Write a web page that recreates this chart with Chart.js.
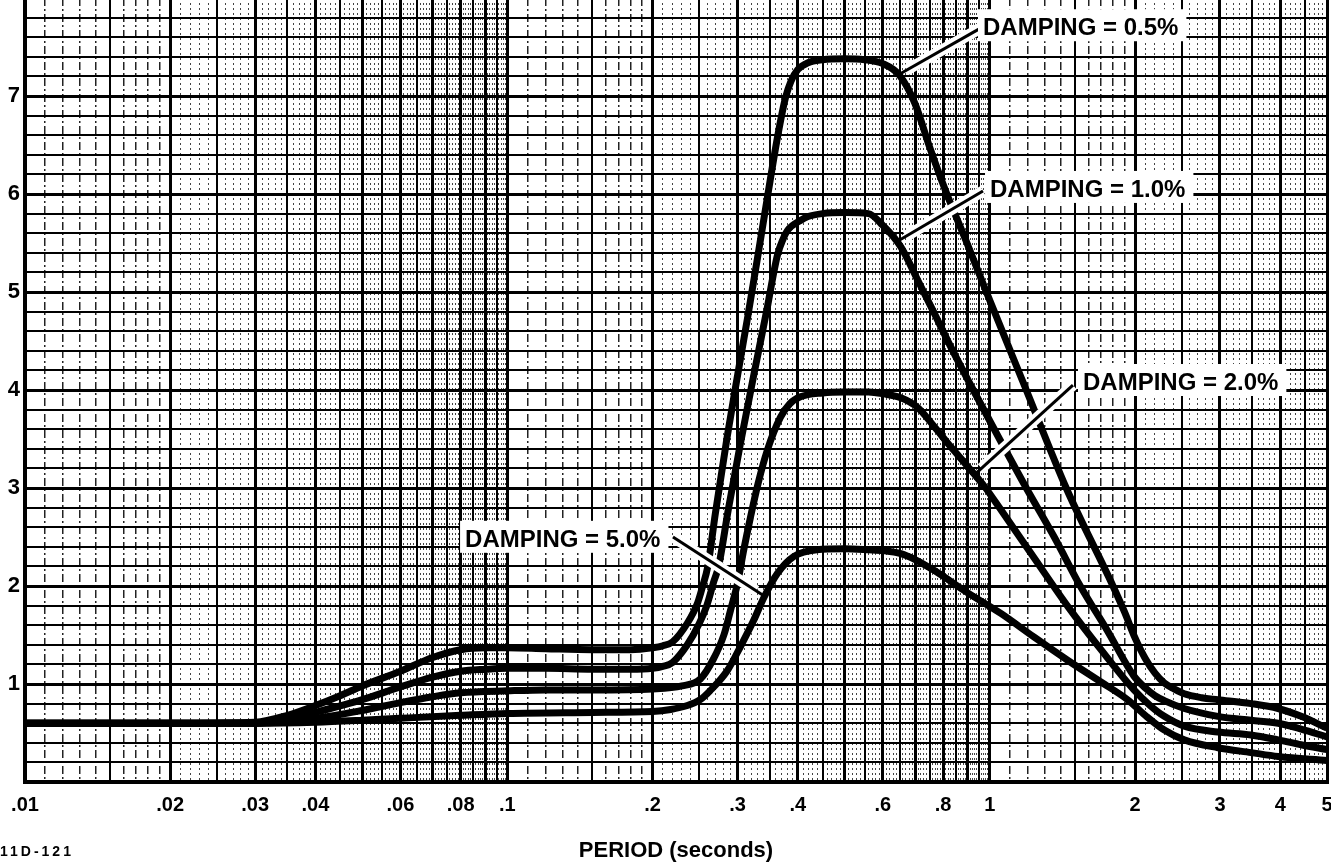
<!DOCTYPE html>
<html>
<head>
<meta charset="utf-8">
<title>Response spectra - PERIOD (seconds)</title>
<script src="https://cdn.jsdelivr.net/npm/chart.js@4.4.0/dist/chart.umd.min.js"></script>
<style>
  html, body { margin: 0; padding: 0; background: #fff; overflow: hidden; }
  #wrap { position: absolute; left: 0; top: -2px; width: 1331px; height: 866px; }
  #figno { position: absolute; left: 0; top: 844px; font: bold 14px "Liberation Sans", Arial, sans-serif; letter-spacing: 3px; line-height: 14px; }
</style>
</head>
<body>
<div id="wrap"><canvas id="spectrum" width="1331" height="866"></canvas></div>
<div id="figno">11D-121</div>
<script>
// spectrum curves, one pair of arrays per damping ratio (period in s)
var period05 = [0.01, 0.02, 0.03, 0.035, 0.04, 0.045, 0.05, 0.06, 0.07, 0.08, 0.09, 0.1, 0.12, 0.15, 0.18, 0.2, 0.21, 0.22, 0.236, 0.248, 0.254, 0.26, 0.27, 0.285, 0.3, 0.315, 0.33, 0.346, 0.363, 0.377, 0.387, 0.4, 0.42, 0.45, 0.5, 0.55, 0.6, 0.65, 0.7, 0.75, 0.81, 0.9, 0.98, 1.19, 1.44, 1.8, 1.9, 2.0, 2.1, 2.2, 2.3, 2.41, 2.53, 2.75, 2.97, 3.48, 3.96, 4.42, 5];
var value05 = [0.6, 0.6, 0.61, 0.68, 0.78, 0.88, 0.98, 1.13, 1.27, 1.35, 1.37, 1.37, 1.36, 1.35, 1.35, 1.37, 1.39, 1.43, 1.62, 1.83, 2.0, 2.19, 2.75, 3.5, 4.15, 4.75, 5.35, 5.97, 6.58, 6.98, 7.15, 7.27, 7.34, 7.37, 7.38, 7.37, 7.33, 7.21, 6.92, 6.48, 6.03, 5.48, 5.02, 4.0, 3.0, 2.0, 1.74, 1.47, 1.26, 1.11, 1.01, 0.95, 0.9, 0.86, 0.84, 0.8, 0.75, 0.67, 0.55];

var period10 = [0.01, 0.02, 0.03, 0.035, 0.04, 0.05, 0.06, 0.07, 0.08, 0.09, 0.1, 0.12, 0.15, 0.18, 0.2, 0.21, 0.22, 0.236, 0.25, 0.259, 0.268, 0.274, 0.287, 0.304, 0.324, 0.346, 0.355, 0.363, 0.372, 0.381, 0.405, 0.42, 0.45, 0.5, 0.56, 0.6, 0.654, 0.709, 0.766, 0.83, 0.924, 1.05, 1.19, 1.36, 1.54, 1.75, 1.99, 2.1, 2.2, 2.3, 2.53, 2.97, 3.48, 3.96, 4.42, 5];
var value10 = [0.6, 0.6, 0.6, 0.64, 0.71, 0.84, 0.97, 1.07, 1.13, 1.15, 1.16, 1.16, 1.15, 1.15, 1.16, 1.18, 1.22, 1.4, 1.62, 1.8, 2.05, 2.2, 2.78, 3.45, 4.15, 4.85, 5.15, 5.38, 5.53, 5.63, 5.73, 5.77, 5.8, 5.81, 5.8, 5.68, 5.46, 5.12, 4.79, 4.44, 4.0, 3.49, 3.0, 2.5, 2.0, 1.55, 1.08, 0.96, 0.88, 0.83, 0.75, 0.67, 0.63, 0.6, 0.54, 0.46];

var period20 = [0.01, 0.02, 0.03, 0.04, 0.05, 0.06, 0.07, 0.08, 0.1, 0.12, 0.15, 0.2, 0.23, 0.251, 0.267, 0.281, 0.29, 0.3, 0.309, 0.319, 0.331, 0.346, 0.368, 0.385, 0.405, 0.45, 0.5, 0.56, 0.603, 0.654, 0.709, 0.766, 0.83, 0.9, 0.98, 1.05, 1.234, 1.452, 1.7, 1.99, 2.15, 2.3, 2.53, 2.97, 3.48, 3.96, 4.42, 5];
var value20 = [0.6, 0.6, 0.6, 0.65, 0.73, 0.81, 0.87, 0.91, 0.93, 0.94, 0.94, 0.95, 0.98, 1.05, 1.25, 1.5, 1.75, 2.03, 2.37, 2.7, 3.05, 3.39, 3.72, 3.86, 3.93, 3.97, 3.98, 3.98, 3.96, 3.92, 3.82, 3.63, 3.42, 3.22, 3.0, 2.79, 2.29, 1.79, 1.35, 0.94, 0.78, 0.67, 0.57, 0.51, 0.48, 0.43, 0.38, 0.33];

var period50 = [0.01, 0.02, 0.03, 0.04, 0.05, 0.06, 0.08, 0.1, 0.15, 0.2, 0.218, 0.236, 0.251, 0.263, 0.286, 0.304, 0.324, 0.34, 0.363, 0.392, 0.438, 0.5, 0.56, 0.603, 0.654, 0.7, 0.766, 0.9, 1.054, 1.234, 1.452, 1.7, 1.93, 2.1, 2.3, 2.53, 2.97, 3.48, 3.96, 5];
var value50 = [0.6, 0.6, 0.6, 0.61, 0.63, 0.65, 0.68, 0.7, 0.71, 0.72, 0.74, 0.78, 0.84, 0.93, 1.14, 1.38, 1.65, 1.88, 2.13, 2.3, 2.37, 2.38, 2.37, 2.36, 2.33, 2.27, 2.16, 1.93, 1.72, 1.48, 1.24, 1.02, 0.84, 0.68, 0.53, 0.43, 0.35, 0.3, 0.26, 0.22];

// axis labels
var periodTicks = [0.01, 0.02, 0.03, 0.04, 0.06, 0.08, 0.1, 0.2, 0.3, 0.4, 0.6, 0.8, 1, 2, 3, 4, 5];
var periodTickText = ['.01', '.02', '.03', '.04', '.06', '.08', '.1', '.2', '.3', '.4', '.6', '.8', '1', '2', '3', '4', '5'];
var valueTicks = [1, 2, 3, 4, 5, 6, 7];

// damping callouts: text, text anchor, leader start and leader end (period, value)
var calloutText = ['DAMPING = 0.5%', 'DAMPING = 1.0%', 'DAMPING = 2.0%', 'DAMPING = 5.0%'];
var calloutAt = [[0.968, 7.62], [1.001, 5.97], [1.56, 4.0], [0.0817, 2.40]];
var leaderFrom = [[0.955, 7.69], [0.968, 6.03], [1.487, 4.05], [0.2204, 2.50]];
var leaderTo = [[0.648, 7.22], [0.645, 5.52], [0.931, 3.14], [0.340, 1.90]];

var FONT = '"Liberation Sans", Arial, Helvetica, sans-serif';
Chart.defaults.font.family = FONT;
Chart.defaults.color = '#000';

function points(periods, values) {
  return periods.map(function (t, i) { return { x: t, y: values[i] }; });
}

// log graph paper: a line every tenth of the leading digit
function paperLines() {
  var out = [];
  [0.01, 0.1, 1].forEach(function (decade) {
    for (var i = 10; i < 100; i++) {
      var v = +(decade * i / 10).toPrecision(6);
      if (v > 5.0001) break;
      out.push(v);
    }
  });
  return out;
}

function tenths(v) {
  var e = Math.floor(Math.log10(v) + 1e-9);
  return Math.round(v / Math.pow(10, e) * 10);
}

function labelFor(v) {
  for (var i = 0; i < periodTicks.length; i++) {
    if (Math.abs(periodTicks[i] - v) < 1e-9) return periodTickText[i];
  }
  return '';
}

var curveStyle = {
  borderColor: '#000',
  borderWidth: 7,
  pointRadius: 0,
  fill: false,
  cubicInterpolationMode: 'monotone'
};

var callouts = {
  id: 'callouts',
  afterDatasetsDraw: function (chart) {
    var ctx = chart.ctx, xs = chart.scales.x, ys = chart.scales.y;
    ctx.save();
    ctx.font = 'bold 24px ' + FONT;
    ctx.textBaseline = 'alphabetic';
    calloutText.forEach(function (text, i) {
      var fx = xs.getPixelForValue(leaderFrom[i][0]), fy = ys.getPixelForValue(leaderFrom[i][1]);
      var tx = xs.getPixelForValue(leaderTo[i][0]), ty = ys.getPixelForValue(leaderTo[i][1]);
      var len = Math.hypot(tx - fx, ty - fy);
      var hx = tx - (tx - fx) / len * 9, hy = ty - (ty - fy) / len * 9;
      // white halo so the leader cuts through the curves it crosses
      ctx.strokeStyle = '#fff';
      ctx.lineWidth = 11;
      ctx.beginPath(); ctx.moveTo(fx, fy); ctx.lineTo(hx, hy); ctx.stroke();
      ctx.strokeStyle = '#000';
      ctx.lineWidth = 3;
      ctx.beginPath(); ctx.moveTo(fx, fy); ctx.lineTo(tx, ty); ctx.stroke();

      var lx = xs.getPixelForValue(calloutAt[i][0]), ly = ys.getPixelForValue(calloutAt[i][1]);
      var w = ctx.measureText(text).width;
      ctx.fillStyle = '#fff';
      ctx.fillRect(lx - 5, ly - 26, w + 13, 32);
      ctx.fillStyle = '#000';
      ctx.fillText(text, lx, ly);
    });
    ctx.restore();
  }
};

new Chart(document.getElementById('spectrum'), {
  type: 'line',
  data: {
    datasets: [
      Object.assign({ label: '0.5%', data: points(period05, value05) }, curveStyle),
      Object.assign({ label: '1.0%', data: points(period10, value10) }, curveStyle),
      Object.assign({ label: '2.0%', data: points(period20, value20) }, curveStyle),
      Object.assign({ label: '5.0%', data: points(period50, value50) }, curveStyle)
    ]
  },
  options: {
    responsive: false,
    animation: false,
    events: [],
    layout: { padding: { left: 0, right: 4, top: 0, bottom: 0 } },
    plugins: { legend: { display: false }, tooltip: { enabled: false } },
    scales: {
      x: {
        type: 'logarithmic',
        min: 0.01,
        max: 5,
        afterBuildTicks: function (scale) {
          scale.ticks = paperLines().map(function (v) { return { value: v }; });
        },
        afterFit: function (scale) {
          scale.height = 82;
          scale.paddingLeft = 0;
          scale.paddingRight = 0;
        },
        ticks: {
          autoSkip: false,
          maxRotation: 0,
          minRotation: 0,
          padding: 11,
          font: { size: 20, weight: 'bold' },
          callback: function (v) { return labelFor(v); }
        },
        grid: {
          drawTicks: false,
          color: function (ctx) {
            if (!ctx.tick) return '#000';
            var m = tenths(ctx.tick.value);
            if (m % 5 === 0) return '#000';
            return m < 20 ? '#222' : '#444';
          },
          lineWidth: function (ctx) {
            if (!ctx.tick) return 1;
            var m = tenths(ctx.tick.value);
            if (m % 10 === 0) return 3;
            if (m % 5 === 0) return 2;
            return m < 20 ? 1.5 : 1;
          }
        },
        border: {
          display: true,
          color: '#000',
          width: 4,
          dash: function (ctx) {
            if (!ctx.tick) return [];
            var m = tenths(ctx.tick.value);
            if (m % 5 === 0) return [];
            return m < 20 ? [8, 3, 2, 3] : [2, 3];
          }
        },
        title: {
          display: true,
          text: 'PERIOD (seconds)',
          font: { size: 22, weight: 'bold' },
          padding: { top: 0, bottom: 0 }
        }
      },
      y: {
        min: 0,
        max: 8,
        afterFit: function (scale) {
          scale.width = 25;
          scale.paddingTop = 0;
          scale.paddingBottom = 0;
        },
        ticks: {
          stepSize: 0.2,
          autoSkip: false,
          padding: 5,
          font: { size: 22, weight: 'bold' },
          callback: function (v) {
            var n = Math.round(v);
            return (Math.abs(v - n) < 1e-6 && valueTicks.indexOf(n) >= 0) ? String(n) : '';
          }
        },
        grid: {
          drawTicks: false,
          color: '#000',
          lineWidth: function (ctx) {
            if (!ctx.tick) return 2;
            var v = ctx.tick.value;
            return Math.abs(v - Math.round(v)) < 1e-6 ? 3 : 2;
          }
        },
        border: { display: true, color: '#000', width: 4 }
      }
    }
  },
  plugins: [callouts]
});
</script>
</body>
</html>
